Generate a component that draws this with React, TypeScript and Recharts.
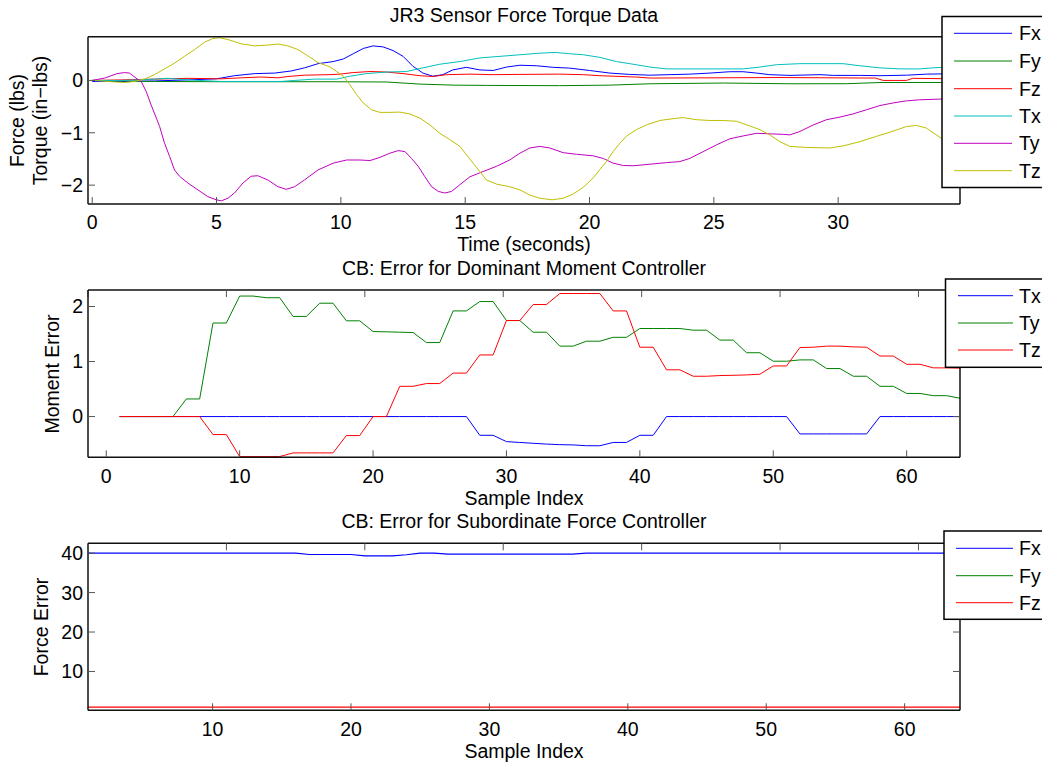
import React from 'react';
import { Line, LineChart, XAxis, YAxis } from 'recharts';

const W = 1042;
const H = 765;
const FONT = '"Liberation Sans", Arial, Helvetica, sans-serif';
const FS = 19.5;

const BLUE = '#0000ff';
const GREEN = '#008000';
const RED = '#ff0000';
const CYAN = '#00bfbf';
const MAGENTA = '#bf00bf';
const YELLOW = '#bfbf00';

// JR3 sensor readings, [time (s), value]
const fxPts: [number, number][] = [
  [0, -0.02], [1.17, -0.02], [2.5, -0.01], [3.85, 0.01], [4.99, 0.03], [5.72, 0.09], [6.53, 0.13], [7.33, 0.14],
  [8.0, 0.18], [8.54, 0.24], [9.08, 0.32], [9.69, 0.36], [10.1, 0.41], [10.5, 0.51], [10.9, 0.61], [11.3, 0.66],
  [11.7, 0.64], [12.1, 0.57], [12.5, 0.46], [12.9, 0.27], [13.3, 0.14], [13.7, 0.08], [14.1, 0.11], [14.5, 0.2],
  [15.05, 0.25], [15.59, 0.2], [16.13, 0.19], [16.66, 0.255], [17.2, 0.29], [17.87, 0.28], [18.54, 0.25], [19.2, 0.235],
  [20.0, 0.19], [20.82, 0.14], [21.6, 0.115], [22.4, 0.1], [23.2, 0.11], [24.03, 0.12], [24.84, 0.14], [25.64, 0.166],
  [26.18, 0.166], [26.72, 0.14], [27.25, 0.11], [28.06, 0.096], [29.27, 0.11], [29.8, 0.096], [30.87, 0.096],
  [31.68, 0.09], [32.75, 0.1], [33.55, 0.12], [34.9, 0.13],
];
const fyPts: [number, number][] = [
  [0, 0], [2.5, -0.02], [5.19, -0.025], [9.56, -0.025], [11.84, -0.03], [13.18, -0.07], [14.52, -0.09], [15.85, -0.095],
  [18.8, -0.1], [20.82, -0.09], [22.43, -0.064], [25.38, -0.05], [28.06, -0.064], [30.33, -0.063], [31.68, -0.04], [34.9, -0.04],
];
const fzPts: [number, number][] = [
  [0, 0], [1.17, 0.01], [2.5, 0.025], [3.85, 0.04], [5.19, 0.03], [6.0, 0.05], [6.8, 0.065], [7.47, 0.05], [7.87, 0.075],
  [8.54, 0.1], [9.56, 0.11], [9.96, 0.12], [10.5, 0.15], [11.17, 0.17], [11.84, 0.16], [12.5, 0.13], [13.18, 0.09],
  [13.7, 0.075], [14.25, 0.11], [15.19, 0.12], [16.13, 0.11], [17.2, 0.115], [18.8, 0.12], [19.75, 0.11], [20.42, 0.09],
  [21.89, 0.064], [22.43, 0.045], [27.66, 0.055], [31.5, 0.045], [31.81, 0.0], [32.75, 0.0], [33.0, 0.04], [34.9, 0.03],
];
const txPts: [number, number][] = [
  [0, 0], [1.17, 0], [1.84, 0.01], [2.5, 0.025], [3.04, 0.04], [3.85, 0.01], [5.19, -0.02], [7.6, -0.02], [8.14, 0],
  [8.94, 0.025], [9.83, 0.025], [10.36, 0.08], [11.03, 0.13], [11.84, 0.16], [12.64, 0.17], [13.3, 0.24], [13.98, 0.31],
  [14.79, 0.36], [15.59, 0.43], [16.4, 0.46], [17.2, 0.49], [18.0, 0.52], [18.6, 0.535], [19.2, 0.51], [19.75, 0.49],
  [20.42, 0.44], [21.08, 0.36], [21.75, 0.31], [22.43, 0.255], [23.1, 0.22], [26.18, 0.22], [26.85, 0.255], [27.52, 0.3],
  [28.46, 0.32], [30.2, 0.32], [30.87, 0.28], [31.68, 0.24], [32.48, 0.22], [33.28, 0.22], [33.82, 0.24], [34.9, 0.27],
];
const tyPts: [number, number][] = [
  [0, 0], [0.5, 0.045], [1.0, 0.13], [1.3, 0.15], [1.5, 0.14], [1.8, 0.03], [1.97, -0.02], [2.17, -0.21], [2.37, -0.47],
  [2.58, -0.72], [2.71, -0.88], [2.91, -1.2], [3.11, -1.45], [3.31, -1.71], [3.51, -1.83], [3.85, -1.96], [4.25, -2.09],
  [4.65, -2.22], [4.99, -2.28], [5.19, -2.3], [5.46, -2.25], [5.72, -2.15], [6.06, -1.96], [6.39, -1.83], [6.66, -1.82],
  [7.06, -1.9], [7.47, -2.03], [7.8, -2.08], [8.14, -2.03], [8.54, -1.9], [9.08, -1.71], [9.69, -1.58], [10.23, -1.52],
  [10.77, -1.52], [11.17, -1.53], [11.57, -1.47], [11.97, -1.39], [12.31, -1.34], [12.58, -1.36], [12.84, -1.49],
  [13.11, -1.64], [13.38, -1.84], [13.65, -2.03], [13.92, -2.12], [14.18, -2.15], [14.45, -2.12], [14.79, -1.99],
  [15.19, -1.84], [15.72, -1.74], [16.26, -1.64], [16.79, -1.52], [17.2, -1.39], [17.6, -1.29], [18.0, -1.26],
  [18.4, -1.29], [18.94, -1.38], [19.48, -1.41], [20.15, -1.44], [20.55, -1.49], [20.95, -1.58], [21.36, -1.625],
  [21.75, -1.63], [22.43, -1.6], [23.1, -1.57], [23.63, -1.55], [24.03, -1.49], [24.57, -1.36], [25.11, -1.23],
  [25.64, -1.115], [26.18, -1.06], [26.72, -1.01], [27.25, -1.02], [27.79, -1.03], [28.06, -1.04], [28.46, -0.975],
  [29.0, -0.85], [29.53, -0.75], [30.07, -0.7], [30.6, -0.64], [31.14, -0.56], [31.68, -0.48], [32.21, -0.43],
  [32.75, -0.39], [33.28, -0.37], [34.08, -0.357], [34.9, -0.34],
];
const tzPts: [number, number][] = [
  [0, 0], [0.63, -0.02], [1.3, -0.04], [1.7, -0.02], [2.1, 0.025], [2.5, 0.11], [2.91, 0.22], [3.31, 0.33], [3.71, 0.46],
  [4.12, 0.59], [4.52, 0.73], [4.85, 0.8], [5.12, 0.815], [5.46, 0.78], [5.99, 0.7], [6.53, 0.66], [7.06, 0.675],
  [7.47, 0.695], [7.87, 0.66], [8.27, 0.59], [8.67, 0.47], [9.08, 0.34], [9.56, 0.26], [9.83, 0.17], [10.1, 0.08],
  [10.36, -0.08], [10.63, -0.27], [10.9, -0.43], [11.23, -0.56], [11.57, -0.61], [11.97, -0.61], [12.37, -0.605],
  [12.77, -0.64], [13.18, -0.72], [13.58, -0.85], [13.98, -1.01], [14.38, -1.13], [14.79, -1.26], [15.05, -1.42],
  [15.32, -1.58], [15.59, -1.74], [15.85, -1.9], [16.26, -1.98], [16.79, -2.03], [17.2, -2.09], [17.6, -2.19],
  [18.0, -2.25], [18.5, -2.28], [18.94, -2.25], [19.34, -2.17], [19.75, -2.04], [20.15, -1.86], [20.42, -1.7],
  [20.68, -1.55], [20.95, -1.36], [21.22, -1.2], [21.49, -1.06], [21.89, -0.94], [22.29, -0.85], [22.83, -0.765],
  [23.37, -0.73], [23.77, -0.71], [24.3, -0.75], [24.84, -0.765], [25.38, -0.765], [25.91, -0.78], [26.45, -0.87],
  [26.85, -0.94], [27.25, -1.04], [27.66, -1.17], [28.06, -1.26], [28.73, -1.28], [29.66, -1.29], [30.2, -1.25],
  [30.87, -1.17], [31.53, -1.07], [32.2, -0.97], [32.75, -0.88], [33.15, -0.86], [33.55, -0.91], [33.95, -1.04],
  [34.14, -1.1], [34.9, -1.15],
];

// controller errors per sample
const sampleIdx = Array.from({ length: 64 }, (_, i) => i + 1);
const txErr = [
  0, 0, 0, 0, 0, 0, 0, 0, 0, 0, 0, 0, 0, 0, 0, 0, 0, 0, 0, 0, 0, 0, 0, 0, 0, 0, 0,
  -0.34, -0.34, -0.455, -0.47, -0.485, -0.5, -0.51, -0.515, -0.53, -0.53, -0.47, -0.47, -0.34, -0.34,
  0, 0, 0, 0, 0, 0, 0, 0, 0, 0,
  -0.315, -0.315, -0.315, -0.315, -0.315, -0.315,
  0, 0, 0, 0, 0, 0, 0,
];
const tyErr = [
  0, 0, 0, 0, 0, 0.32, 0.32, 1.7, 1.7, 2.19, 2.19, 2.16, 2.16, 1.82, 1.82, 2.06, 2.06, 1.74, 1.74, 1.545,
  1.54, 1.533, 1.527, 1.345, 1.345, 1.92, 1.92, 2.09, 2.09, 1.745, 1.745, 1.533, 1.533, 1.28, 1.28, 1.37,
  1.37, 1.44, 1.44, 1.6, 1.6, 1.6, 1.6, 1.57, 1.57, 1.39, 1.39, 1.16, 1.16, 1.006, 1.006, 1.03, 1.03, 0.873,
  0.873, 0.733, 0.733, 0.55, 0.55, 0.42, 0.42, 0.38, 0.38, 0.333,
];
const tzErr = [
  0, 0, 0, 0, 0, 0, 0, -0.327, -0.327, -0.727, -0.727, -0.727, -0.727, -0.66, -0.66, -0.66, -0.66, -0.345,
  -0.345, 0, 0, 0.55, 0.55, 0.6, 0.6, 0.79, 0.79, 1.12, 1.12, 1.745, 1.745, 2.036, 2.036, 2.236, 2.236, 2.236,
  2.236, 1.92, 1.92, 1.26, 1.26, 0.85, 0.85, 0.733, 0.733, 0.745, 0.75, 0.757, 0.77, 0.92, 0.92, 1.255, 1.26,
  1.28, 1.28, 1.267, 1.26, 1.1, 1.1, 0.95, 0.95, 0.885, 0.885, 0.88,
];
const fxErr = [
  40, 40, 40, 40, 40, 40, 40, 40, 40, 40, 40, 40, 40, 40, 40, 40,
  39.65, 39.65, 39.65, 39.65, 39.3, 39.3, 39.3, 39.6, 40, 40,
  39.75, 39.75, 39.75, 39.75, 39.75, 39.75, 39.75, 39.75, 39.75, 39.75,
  40, 40, 40, 40, 40, 40, 40, 40, 40, 40, 40, 40, 40, 40, 40, 40, 40, 40, 40, 40, 40, 40, 40, 40, 40, 40, 40, 40,
];
const fyErr = [
  0, 0, 0, 0, 0, 0, 0, 0, 0, 0, 0, 0, 0, 0, 0, 0, 0, 0, 0, 0, 0, 0, 0, 0, 0, 0, 0, 0, 0, 0, 0, 0,
  0, 0, 0, 0, 0, 0, 0, 0, 0, 0, 0, 0, 0, 0, 0, 0, 0, 0, 0, 0, 0, 0, 0, 0, 0, 0, 0, 0, 0, 0, 0, 0,
];
const fzErr = [
  0.95, 0.95, 0.95, 0.95, 0.95, 0.95, 0.95, 0.95, 0.95, 0.95, 0.95, 0.95, 0.95, 0.95, 0.95, 0.95,
  0.95, 0.95, 0.95, 0.95, 0.95, 0.95, 0.95, 0.95, 0.95, 0.95, 0.95, 0.95, 0.95, 0.95, 0.95, 0.95,
  0.95, 0.95, 0.95, 0.95, 0.95, 0.95, 0.95, 0.95, 0.95, 0.95, 0.95, 0.95, 0.95, 0.95, 0.95, 0.95,
  0.95, 0.95, 0.95, 0.95, 0.95, 0.95, 0.95, 0.95, 0.95, 0.95, 0.95, 0.95, 0.95, 0.95, 0.95, 0.95,
];

const timeTicks = [0, 5, 10, 15, 20, 25, 30];
const torqueTicks = [-2, -1, 0];
const momentXTicks = [0, 10, 20, 30, 40, 50, 60];
const momentYTicks = [0, 1, 2];
const forceXTicks = [10, 20, 30, 40, 50, 60];
const forceYTicks = [10, 20, 30, 40];

const sensorSeries = [
  { name: 'Fx', color: BLUE, pts: fxPts },
  { name: 'Fy', color: GREEN, pts: fyPts },
  { name: 'Fz', color: RED, pts: fzPts },
  { name: 'Tx', color: CYAN, pts: txPts },
  { name: 'Ty', color: MAGENTA, pts: tyPts },
  { name: 'Tz', color: YELLOW, pts: tzPts },
];
const momentSeries = [
  { name: 'Tx', color: BLUE, vals: txErr },
  { name: 'Ty', color: GREEN, vals: tyErr },
  { name: 'Tz', color: RED, vals: tzErr },
];
const forceSeries = [
  { name: 'Fx', color: BLUE, vals: fxErr },
  { name: 'Fy', color: GREEN, vals: fyErr },
  { name: 'Fz', color: RED, vals: fzErr },
];

const momentData = sampleIdx.map((x, k) => ({ x, Tx: txErr[k], Ty: tyErr[k], Tz: tzErr[k] }));
const forceData = sampleIdx.map((x, k) => ({ x, Fx: fxErr[k], Fy: fyErr[k], Fz: fzErr[k] }));

const PLOT_LEFT = 88;
const PLOT_RIGHT = 960;
const LEFT_W = 60;
const RIGHT_W = 10;
const TOP_H = 10;
const BOT_H = 30;

const tickStyle = { fontSize: FS, fontFamily: FONT, fill: '#000' };
const axisLine = { stroke: '#111', strokeWidth: 1.5 };
const tickLine = { stroke: '#555', strokeWidth: 1 };
const fmt = (v: number) => String(v).replace('-', '\u2212');
const blank = () => '';

type PanelProps = {
  top: number;
  bottom: number;
  xDomain: [number, number];
  yDomain: [number, number];
  xTicks: number[];
  yTicks: number[];
  data?: any[];
  children: React.ReactNode;
};

function Panel({ top, bottom, xDomain, yDomain, xTicks, yTicks, data, children }: PanelProps) {
  return (
    <div style={{ position: 'absolute', left: 0, top: 0 }}>
      <LineChart
        width={W}
        height={H}
        data={data}
        margin={{ top: top - TOP_H, bottom: H - bottom - BOT_H, left: PLOT_LEFT - LEFT_W, right: W - PLOT_RIGHT - RIGHT_W }}
      >
        <XAxis
          type="number"
          dataKey="x"
          domain={xDomain}
          ticks={xTicks}
          interval={0}
          allowDataOverflow
          height={BOT_H}
          tickSize={-7}
          tickMargin={18.5}
          tick={tickStyle}
          tickFormatter={fmt}
          axisLine={axisLine}
          tickLine={tickLine}
        />
        <XAxis
          xAxisId="top"
          orientation="top"
          type="number"
          domain={xDomain}
          ticks={xTicks}
          interval={0}
          allowDataOverflow
          height={TOP_H}
          tickSize={-7}
          tickFormatter={blank}
          axisLine={axisLine}
          tickLine={tickLine}
        />
        <YAxis
          type="number"
          domain={yDomain}
          ticks={yTicks}
          interval={0}
          allowDataOverflow
          width={LEFT_W}
          tickSize={-7}
          tickMargin={12}
          tick={tickStyle}
          tickFormatter={fmt}
          axisLine={axisLine}
          tickLine={tickLine}
        />
        <YAxis
          yAxisId="right"
          orientation="right"
          type="number"
          domain={yDomain}
          ticks={yTicks}
          interval={0}
          allowDataOverflow
          width={RIGHT_W}
          tickSize={-7}
          tickFormatter={blank}
          axisLine={axisLine}
          tickLine={tickLine}
        />
        {children}
      </LineChart>
    </div>
  );
}

type LegendItem = { name: string; color: string };

function LegendBox({ x, y, h, rows, lineX, textX, items }: {
  x: number; y: number; h: number; rows: number[]; lineX: [number, number]; textX: number; items: LegendItem[];
}) {
  return (
    <g>
      <rect x={x} y={y} width={W - x + 20} height={h} fill="#fff" stroke="#000" strokeWidth={1.5} />
      {items.map((it, i) => (
        <g key={it.name}>
          <line x1={lineX[0]} x2={lineX[1]} y1={rows[i]} y2={rows[i]} stroke={it.color} strokeWidth={1} />
          <text x={textX} y={rows[i] + 7} fontSize={FS} fontFamily={FONT} fill="#000">{it.name}</text>
        </g>
      ))}
    </g>
  );
}

const labelProps = { fontSize: FS, fontFamily: FONT, fill: '#000', textAnchor: 'middle' as const };

export default function App() {
  const cx = (PLOT_LEFT + PLOT_RIGHT) / 2;
  return (
    <div style={{ position: 'absolute', left: 0, top: 0, width: W, height: H, background: '#fff', overflow: 'hidden' }}>
      <Panel top={36.7} bottom={204} xDomain={[-0.17, 34.9]} yDomain={[-2.36, 0.835]} xTicks={timeTicks} yTicks={torqueTicks}>
        {sensorSeries.map((s) => (
          <Line
            key={s.name}
            data={s.pts.map(([x, y]) => ({ x, y }))}
            dataKey="y"
            name={s.name}
            stroke={s.color}
            strokeWidth={1}
            dot={false}
            activeDot={false}
            isAnimationActive={false}
          />
        ))}
      </Panel>
      <Panel top={290} bottom={457.3} xDomain={[-1.37, 64]} yDomain={[-0.74, 2.3]} xTicks={momentXTicks} yTicks={momentYTicks} data={momentData}>
        {momentSeries.map((s) => (
          <Line key={s.name} dataKey={s.name} stroke={s.color} strokeWidth={1} dot={false} activeDot={false} isAnimationActive={false} />
        ))}
      </Panel>
      <Panel top={543.3} bottom={710.3} xDomain={[1, 64]} yDomain={[0.15, 42.5]} xTicks={forceXTicks} yTicks={forceYTicks} data={forceData}>
        {forceSeries.map((s) => (
          <Line key={s.name} dataKey={s.name} stroke={s.color} strokeWidth={1.1} dot={false} activeDot={false} isAnimationActive={false} />
        ))}
      </Panel>

      <svg width={W} height={H} style={{ position: 'absolute', left: 0, top: 0, pointerEvents: 'none' }}>
        <text x={cx} y={21.7} {...labelProps}>JR3 Sensor Force Torque Data</text>
        <text x={cx} y={251} {...labelProps}>Time (seconds)</text>
        <text x={cx} y={275} {...labelProps}>CB: Error for Dominant Moment Controller</text>
        <text x={cx} y={505} {...labelProps}>Sample Index</text>
        <text x={cx} y={528.3} {...labelProps}>CB: Error for Subordinate Force Controller</text>
        <text x={cx} y={757.5} {...labelProps}>Sample Index</text>

        <text transform="translate(24,120.5) rotate(-90)" {...labelProps}>Force (lbs)</text>
        <text transform="translate(47,120.5) rotate(-90)" {...labelProps}>Torque (in{'\u2212'}lbs)</text>
        <text transform="translate(59,374) rotate(-90)" {...labelProps}>Moment Error</text>
        <text transform="translate(48,627) rotate(-90)" {...labelProps}>Force Error</text>

        <LegendBox x={942} y={16.5} h={171} rows={[33.3, 61, 88.7, 116, 143.3, 170.7]} lineX={[954, 1012]} textX={1019} items={sensorSeries} />
        <LegendBox x={945.5} y={279} h={88.3} rows={[295.7, 323, 350]} lineX={[958, 1013]} textX={1019} items={momentSeries} />
        <LegendBox x={944} y={531} h={88.3} rows={[548.3, 575.7, 602.7]} lineX={[956, 1013]} textX={1019} items={forceSeries} />
      </svg>
    </div>
  );
}
